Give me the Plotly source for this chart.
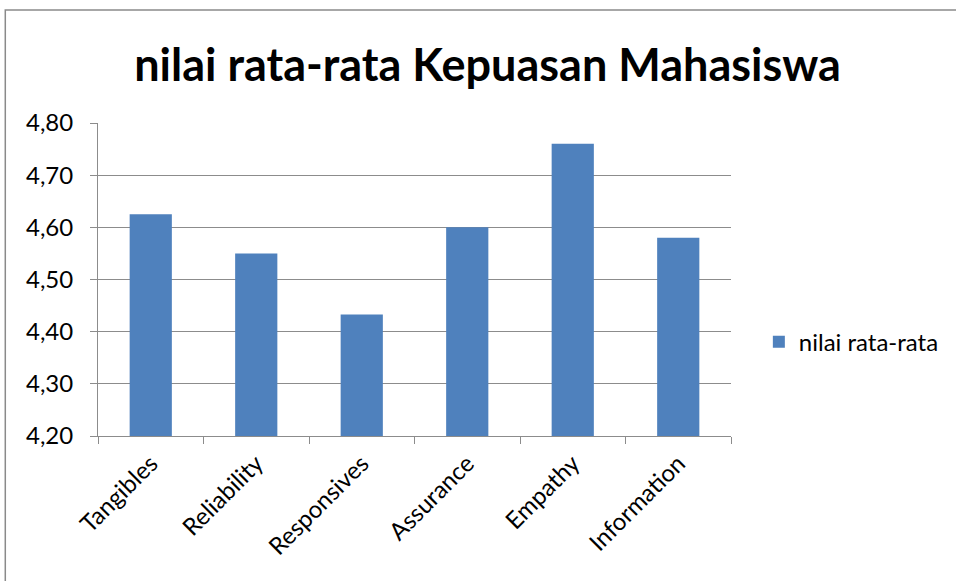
import plotly.graph_objects as go

categories = ["Tangibles", "Reliability", "Responsives", "Assurance", "Empathy", "Information"]
values = [4.625, 4.55, 4.433, 4.60, 4.76, 4.58]
series_name = "nilai rata-rata"
title_text = "nilai rata-rata Kepuasan Mahasiswa"
y_ticks = [4.20, 4.30, 4.40, 4.50, 4.60, 4.70, 4.80]

grid = "#8c8c8c"
fig = go.Figure()
fig.add_trace(go.Bar(x=categories, y=values, name=series_name,
                     marker=dict(color="#4f81bd", line=dict(width=0))))

fig.update_layout(
    width=956, height=581,
    margin=dict(l=98, r=223, t=123, b=145),
    paper_bgcolor="white", plot_bgcolor="white",
    separators=",.",
    font=dict(family="Lato, Carlito, Noto Sans, sans-serif", size=24, color="black"),
    title=dict(text="<b>" + title_text + "</b>", x=0.51, xanchor="center",
               y=1 - 65/581, yanchor="middle", font=dict(size=45)),
    bargap=0.6,
    showlegend=True,
    legend=dict(x=1.044, xanchor="left", y=0.30, yanchor="middle",
                font=dict(size=24), itemwidth=30),
    shapes=[dict(type="rect", xref="paper", yref="paper", layer="below",
                 x0=-93/635, x1=1 + 240/635, y0=-160/313, y1=1 + 113/313,
                 line=dict(color="#8a8a8a", width=1.5))],
)
fig.update_xaxes(showgrid=False, showline=True, linecolor=grid, linewidth=1,
                 ticks="outside", tickson="boundaries", ticklen=7, tickcolor=grid,
                 tickangle=-45, tickfont=dict(size=24), ticklabelstandoff=3)
fig.update_yaxes(range=[4.20, 4.80], tickvals=y_ticks, tickformat=".2f",
                 showgrid=True, gridcolor=grid, gridwidth=1,
                 showline=True, linecolor=grid, linewidth=1,
                 ticks="outside", ticklen=7, tickcolor=grid, zeroline=False,
                 tickfont=dict(size=24), ticklabelstandoff=12)
fig.write_html("out.html", config={"displayModeBar": False},
               post_script="document.body.style.margin='0';")
